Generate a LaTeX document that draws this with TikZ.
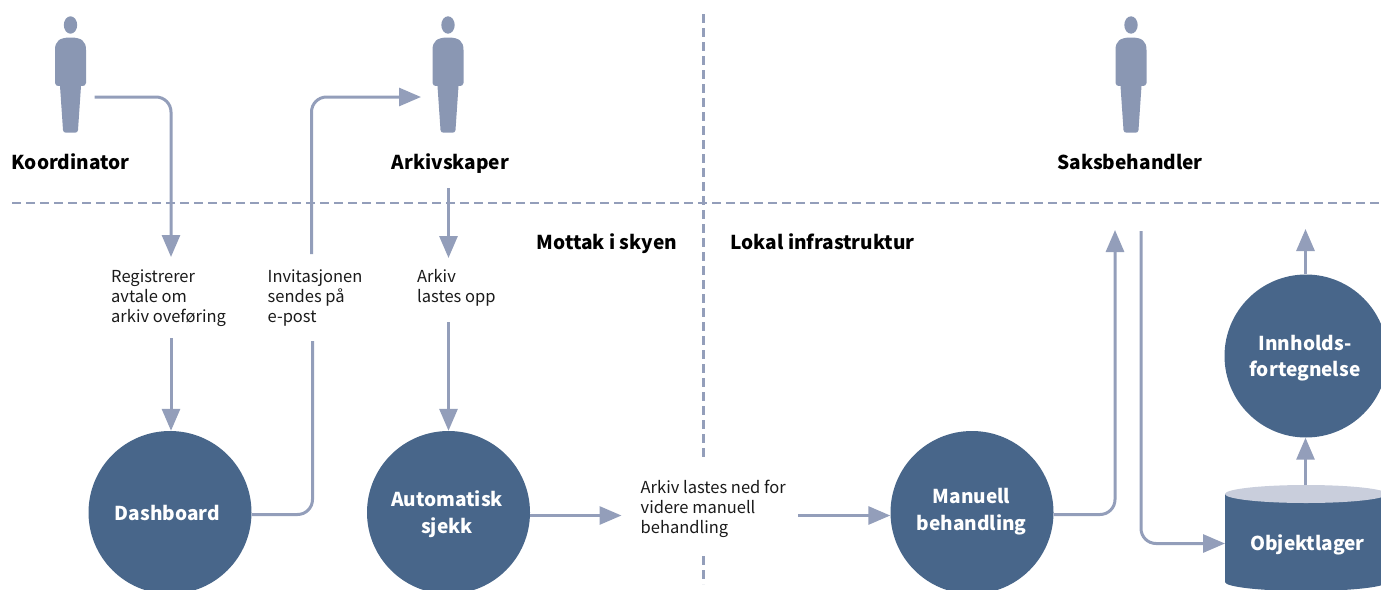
\documentclass[tikz,border=0pt]{standalone}
\usepackage{fontspec}
\setmainfont{Noto Sans CJK SC}
\definecolor{lin}{HTML}{939EBA}
\definecolor{per}{HTML}{8A97B3}
\definecolor{blu}{HTML}{48668A}
\definecolor{lid}{HTML}{C9CEDC}
\definecolor{txt}{HTML}{1A1A1A}
\usetikzlibrary{arrows.meta,calc}
\tikzset{
 conn/.style={draw=lin,line width=3pt,rounded corners=15pt},
 arr/.style={conn,-{Triangle[length=22pt,width=18pt,fill=lin]}},
 sep/.style={draw=lin,line width=2.8pt,dash pattern=on 9pt off 5pt},
 circ/.style={circle,fill=blu,minimum size=163pt,inner sep=0pt},
 ctext/.style={inner sep=0pt,text=white,align=center,font=\fontsize{19.1}{26.5}\selectfont\bfseries},
 lab/.style={anchor=north west,align=left,inner sep=0pt,text=txt,font=\fontsize{16.5}{20}\selectfont},
 head/.style={anchor=base,inner sep=0pt,text=black,font=\fontsize{19.1}{25}\selectfont\bfseries},
}
\newcommand{\person}[1]{%
 \begin{scope}[shift={(#1,0)}]
 \fill[per] (0,25) ellipse (6.7pt and 8.7pt);
 \fill[per] (-15.5,50) .. controls (-15.5,41) and (-11,37.5) .. (0,37.5)
   .. controls (11,37.5) and (15.5,41) .. (15.5,50)
   -- (15.5,83) .. controls (15.5,85) and (14,86) .. (10.5,86)
   -- (7.5,130) .. controls (7.4,132) and (6,132.5) .. (5,132.5)
   -- (-5,132.5) .. controls (-6,132.5) and (-7.4,132) .. (-7.5,130)
   -- (-10.5,86) .. controls (-14,86) and (-15.5,85) .. (-15.5,83) -- cycle;
 \end{scope}
}
\begin{document}
\begin{tikzpicture}[x=1pt,y=-1pt]
\useasboundingbox (0,0) rectangle (1381,589);
\clip (0,0) rectangle (1381,589);
\person{70.5}
\person{448}
\person{1131}
% separators
\coordinate (hl) at (12,203); \coordinate (hr) at (1381,203);
\coordinate (vt) at (703.5,14); \coordinate (vm) at (703.5,460);
\coordinate (vb1) at (703.5,556); \coordinate (vb2) at (703.5,584);
\draw[sep] (hl) -- (hr);
\draw[sep] (vt) -- (vm);
\draw[sep] (vb1) -- (vb2);
% headings
\node[head] (koord) at (70.5,169) {Koordinator};
\node[head] (arkiv) at (450.5,169) {Arkivskaper};
\node[head] (saks) at (1130,169) {Saksbehandler};
\node[head] (mott) at (607,249) {Mottak i skyen};
\node[head] (lokal) at (822.5,249) {Lokal infrastruktur};
% circles
\node[circ] (dash) at (170,512.5) {};
\node[circ] (auto) at (448.5,512.5) {};
\node[circ] (man) at (972,512.5) {};
\node[circ] (inn) at (1306,356) {};
\node[ctext] (dasht) at (167.5,512.5) {Dashboard};
\node[ctext] (autot) at (447,514) {Automatisk\\sjekk};
\node[ctext] (mant) at (971.5,511.5) {Manuell\\behandling};
\node[ctext] (innt) at (1305,358) {Innholds-\\fortegnelse};
% cylinder
\fill[blu] (1225,494) -- (1225,582) arc[start angle=180,end angle=360,x radius=81pt,y radius=9pt] -- (1387,494) -- cycle;
\fill[lid] (1306,494) ellipse (81pt and 9pt);
\node[ctext] (obj) at (1307.5,545) {Objektlager};
\coordinate (objw) at (1225,543.5);
\coordinate (objt) at (1305.5,485);
% labels
\node[lab] (l1) at (111,269.5) {Registrerer\\avtale om\\arkiv oveføring};
\node[lab] (l2) at (267.5,269.5) {Invitasjonen\\sendes på\\e-post};
\node[lab] (l3) at (417,269.5) {Arkiv\\lastes opp};
\node[lab] (l4) at (640.5,480) {Arkiv lastes ned for\\videre manuell\\behandling};
% free ends
\coordinate (a1) at (94.5,97);
\coordinate (a1c) at (171,97);
\coordinate (a1e) at (171,257);
\coordinate (a2s) at (171,338);
\coordinate (b1) at (311.5,254);
\coordinate (b1c) at (311.5,97);
\coordinate (b1e) at (421,97);
\coordinate (b2) at (312.5,341);
\coordinate (b2c) at (312.5,514.5);
\coordinate (c1) at (448.5,188);
\coordinate (c1e) at (448.5,258);
\coordinate (c2) at (448.5,322);
\coordinate (d1e) at (621.5,515.5);
\coordinate (d2) at (798,515.5);
\coordinate (e1c) at (1115,514.5);
\coordinate (e1e) at (1115,230);
\coordinate (f1) at (1141,231);
\coordinate (f1c) at (1141,543.5);
\coordinate (g1e) at (1305.5,229);
% connectors
\draw[arr] (a1) -- (a1c) -- (a1e);
\draw[arr] (a2s) -- (dash.north -| a2s);
\draw[conn] (dash.east |- b2c) -- (b2c) -- (b2);
\draw[arr] (b1) -- (b1c) -- (b1e);
\draw[arr] (c1) -- (c1e);
\draw[arr] (c2) -- (auto.north);
\draw[arr] (auto.east |- d1e) -- (d1e);
\draw[arr] (d2) -- (man.west |- d2);
\draw[arr] (man.east |- e1c) -- (e1c) -- (e1e);
\draw[arr] (f1) -- (f1c) -- (objw);
\draw[arr] (objt) -- (inn.south -| objt);
\draw[arr] (inn.north -| g1e) -- (g1e);
\end{tikzpicture}
\end{document}
